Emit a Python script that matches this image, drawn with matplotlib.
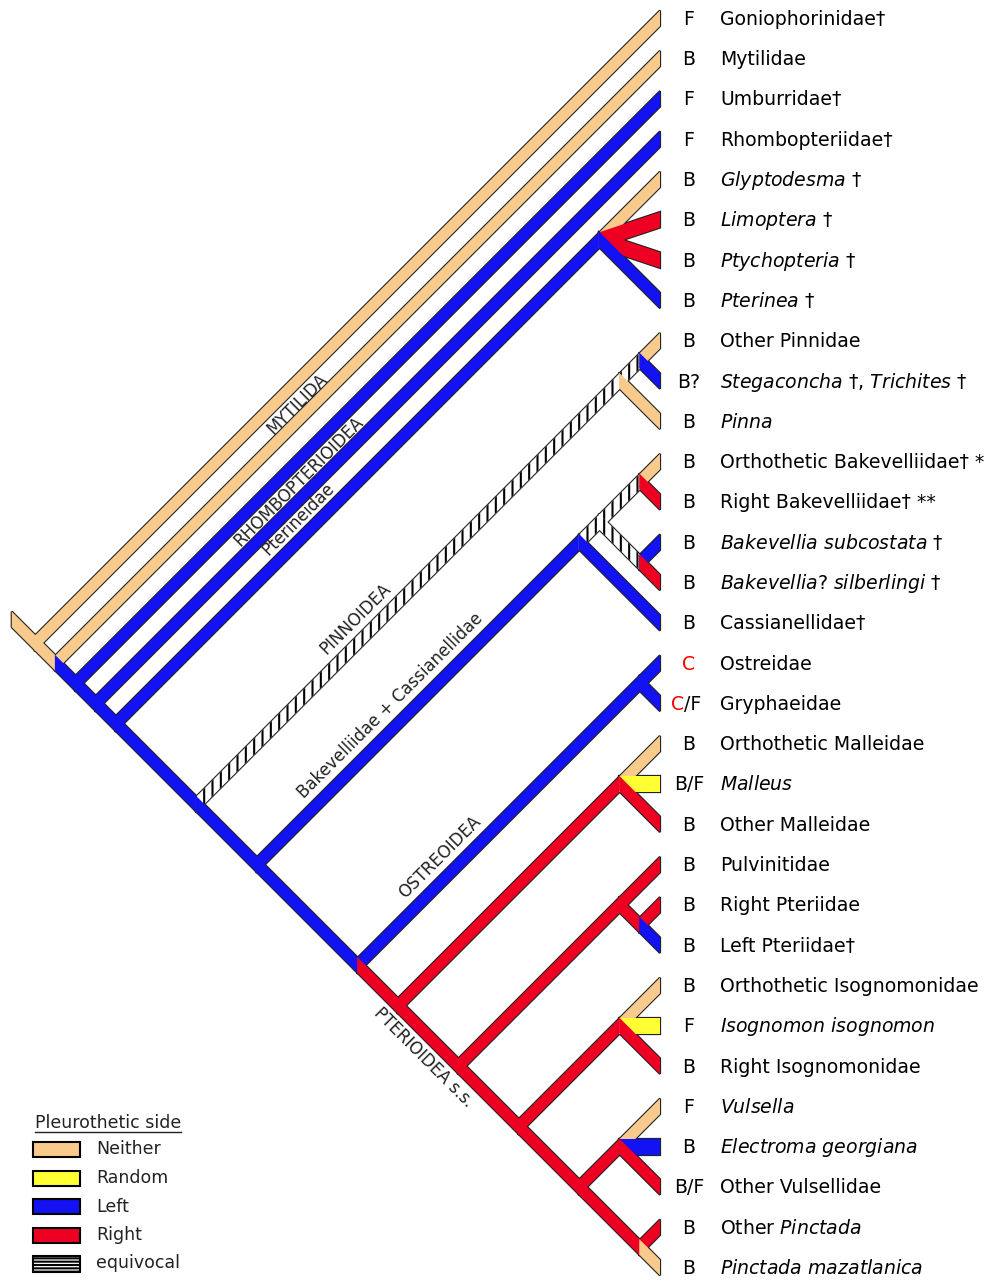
import matplotlib.pyplot as plt
from matplotlib.patches import Polygon, Rectangle

# tips, top to bottom
names = [
    'Goniophorinidae†', 'Mytilidae', 'Umburridae†', 'Rhombopteriidae†',
    r'$\mathit{Glyptodesma}$ †', r'$\mathit{Limoptera}$ †',
    r'$\mathit{Ptychopteria}$ †', r'$\mathit{Pterinea}$ †',
    'Other Pinnidae', r'$\mathit{Stegaconcha}$ †, $\mathit{Trichites}$ †',
    r'$\mathit{Pinna}$',
    'Orthothetic Bakevelliidae† *', 'Right Bakevelliidae† **',
    r'$\mathit{Bakevellia\ subcostata}$ †',
    r'$\mathit{Bakevellia}$? $\mathit{silberlingi}$ †', 'Cassianellidae†',
    'Ostreidae', 'Gryphaeidae',
    'Orthothetic Malleidae', r'$\mathit{Malleus}$', 'Other Malleidae',
    'Pulvinitidae', 'Right Pteriidae', 'Left Pteriidae†',
    'Orthothetic Isognomonidae', r'$\mathit{Isognomon\ isognomon}$',
    'Right Isognomonidae',
    r'$\mathit{Vulsella}$', r'$\mathit{Electroma\ georgiana}$',
    'Other Vulsellidae', r'Other $\mathit{Pinctada}$',
    r'$\mathit{Pinctada\ mazatlanica}$',
]
codes = ['F', 'B', 'F', 'F', 'B', 'B', 'B', 'B', 'B', 'B?', 'B',
         'B', 'B', 'B', 'B', 'B', 'C', 'C/F', 'B', 'B/F', 'B',
         'B', 'B', 'B', 'B', 'F', 'B', 'F', 'B', 'B/F', 'B', 'B']

# topology with the pleurothetic state of every branch
# N = neither, Y = random, L = left, R = right, E = equivocal
tree = ("(0:N,(1:N,(2:L,(3:L,((4:N,5:R,6:R,7:L):L,"
        "(((8:N,9:L):E,10:N):E,"
        "((((11:N,12:R):E,(13:L,14:R):E):E,15:L):L,"
        "((16:L,17:L):L,"
        "((18:N,19:Y,20:R):R,"
        "((21:R,(22:R,23:L):R):R,"
        "((24:N,25:Y,26:R):R,"
        "((27:N,28:L,29:R):R,(30:R,31:N):R):R"
        "):R):R):R):L):L):L):L):L):L):N):N")

clade_names = ['MYTILIDA', 'RHOMBOPTERIOIDEA', 'Pterineidae', 'PINNOIDEA',
               'Bakevelliidae + Cassianellidae', 'OSTREOIDEA',
               'PTERIOIDEA s.s.']
clade_spans = [(1, 1), (3, 3), (4, 7), (8, 10), (11, 15), (16, 17), (18, 31)]

legend_labels = ['Neither', 'Random', 'Left', 'Right', 'equivocal']
legend_states = ['N', 'Y', 'L', 'R', 'E']

colors = {'N': '#F8CB8C', 'Y': '#FFFF33', 'L': '#1212F2', 'R': '#EE0022',
          'E': 'white'}
outline = '#222222'

# layout (pixels)
W, H = 998, 1282
TIP_X, TIP_Y0, STEP = 660, 18.3, 40.3
HALF = 7.8 / STEP
STUB = 23 / STEP
BACK = 0.6 / STEP
FS_TIP, FS_CLADE, FS_LEG = 13.6, 12, 12.5
label_x = [297, 299, 298, 356, 390, 440, 424]
label_off = [-18, -19, -22, -26, -26, -26, 26]

plt.rcParams['hatch.linewidth'] = 1.5
plt.rcParams['font.family'] = ['DejaVu Sans']


def px(xp, yp):
    return (xp - TIP_X) / STEP, (yp - TIP_Y0) / STEP


def parse(s, i=0):
    if s[i] == '(':
        kids = []
        i += 1
        while True:
            kid, i = parse(s, i)
            kids.append(kid)
            i += 1
            if s[i - 1] == ')':
                break
        node = {'kids': kids}
    else:
        j = i
        while s[i].isdigit():
            i += 1
        node = {'tip': int(s[j:i])}
    node['state'] = s[i + 1]
    return node, i + 2


def tips_of(node):
    if 'tip' in node:
        return [node['tip']]
    out = []
    for k in node['kids']:
        out += tips_of(k)
    return out


branches = []
by_span = {}


def walk(node, start):
    t = tips_of(node)
    a, b = min(t), max(t)
    end = (-(b - a) / 2, (a + b) / 2)
    if start is None:
        start = (end[0] - STUB, end[1] - STUB)
    branches.append((start, end, node['state']))
    by_span[(a, b)] = (start, end)
    for k in node.get('kids', []):
        walk(k, end)


root, n = parse(tree)
assert n == len(tree)
walk(root, None)


def band(p0, p1):
    (x0, y0), (x1, y1) = p0, p1
    slope = (y1 - y0) / (x1 - x0)
    x0, y0 = x0 - BACK, y0 - BACK * slope
    return [(x0, y0 - HALF), (x1, y1 - HALF), (x1, y1 + HALF), (x0, y0 + HALF)]


fig = plt.figure(figsize=(W / 100, H / 100), dpi=100)
ax = fig.add_axes([0, 0, 1, 1])
ax.set_xlim(-TIP_X / STEP, (W - TIP_X) / STEP)
ax.set_ylim((H - TIP_Y0) / STEP, -TIP_Y0 / STEP)
ax.axis('off')

# outlines first, fills on top so joins merge
for p0, p1, st in branches:
    ax.add_patch(Polygon(band(p0, p1), closed=True, facecolor=outline,
                         edgecolor=outline, lw=1.6, joinstyle='miter', zorder=1))
for p0, p1, st in branches:
    if st == 'E':
        ax.add_patch(Polygon(band(p0, p1), closed=True, facecolor='white',
                             edgecolor='black', lw=0, hatch='||', zorder=2))
    else:
        ax.add_patch(Polygon(band(p0, p1), closed=True, facecolor=colors[st],
                             edgecolor='none', lw=0, zorder=2))

# tip labels
code_x = px(689, 0)[0]
name_x = px(720, 0)[0]
base = 6.5 / STEP
for i, (c, nm) in enumerate(zip(codes, names)):
    y = i + base
    if c == 'C':
        ax.text(code_x, y, 'C', color='red', ha='center', va='baseline',
                fontsize=FS_TIP)
    elif c.startswith('C'):
        cx = px(684, 0)[0]
        ax.text(cx, y, 'C', color='red', ha='right', va='baseline',
                fontsize=FS_TIP)
        ax.text(cx, y, c[1:], ha='left', va='baseline', fontsize=FS_TIP)
    else:
        ax.text(code_x, y, c, ha='center', va='baseline', fontsize=FS_TIP)
    ax.text(name_x, y, nm, ha='left', va='baseline', fontsize=FS_TIP)

# clade labels along their branches
for txt, sp, lx, off in zip(clade_names, clade_spans, label_x, label_off):
    (x0, y0), (x1, y1) = by_span[sp]
    slope = (y1 - y0) / (x1 - x0)
    xd = px(lx, 0)[0]
    yd = y0 + (xd - x0) * slope + off / STEP
    rot = -45 if slope > 0 else 45
    ax.text(xd, yd, txt, rotation=rot, rotation_mode='anchor',
            ha='center', va='center', fontsize=FS_CLADE, color='#222222')

# legend
lx0, ly0 = px(35, 1123)
ax.text(lx0, ly0, 'Pleurothetic side', ha='left', va='center',
        fontsize=FS_LEG, color='#222222')
ux0, uy = px(35, 1132)
ux1, _ = px(181, 1132)
ax.plot([ux0, ux1], [uy, uy], color='#222222', lw=1)
for k, (lab, st) in enumerate(zip(legend_labels, legend_states)):
    yc = 1149.5 + k * 28.5
    bx, by = px(33, yc - 7.5)
    if st == 'E':
        ax.add_patch(Rectangle((bx, by), 47 / STEP, 16 / STEP, facecolor='white',
                               edgecolor='black', lw=1.5, hatch='-----'))
    else:
        ax.add_patch(Rectangle((bx, by), 47 / STEP, 15 / STEP,
                               facecolor=colors[st], edgecolor='black', lw=1.5))
    tx, ty = px(96, yc)
    ax.text(tx, ty, lab, ha='left', va='center', fontsize=FS_LEG,
            color='#222222')

fig.savefig('out.png', dpi=100)
